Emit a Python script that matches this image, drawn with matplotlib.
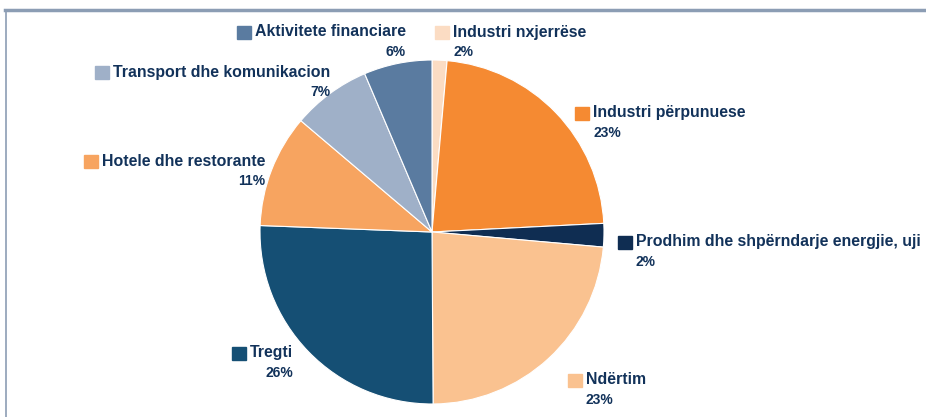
import matplotlib.pyplot as plt
from matplotlib.patches import Rectangle
from matplotlib.lines import Line2D

plt.rcParams['font.family'] = ['Liberation Sans', 'DejaVu Sans']

# te dhenat (pjesa ne %)
sektoret = ['Industri nxjerrëse', 'Industri përpunuese', 'Prodhim dhe shpërndarje energjie, uji',
            'Ndërtim', 'Tregti', 'Hotele dhe restorante', 'Transport dhe komunikacion',
            'Aktivitete financiare']
vlerat = [1.4, 22.8, 2.2, 23.5, 25.7, 10.6, 7.4, 6.4]
etiketat = ['2%', '23%', '2%', '23%', '26%', '11%', '7%', '6%']
ngjyrat = ['#FBDCC3', '#F58A32', '#0F2D52', '#FAC290', '#154F74', '#F7A460', '#9FB0C8', '#5A7BA0']

W, H = 926, 417
fig = plt.figure(figsize=(W / 100, H / 100), dpi=100)

# qendra e pites ne pixel
cx, cy, r = 432, 232, 172
ax = fig.add_axes([(cx - r) / W, (H - cy - r) / H, 2 * r / W, 2 * r / H])
ax.pie(vlerat, colors=ngjyrat, startangle=90, counterclock=False, radius=1,
       wedgeprops=dict(linewidth=0.8, edgecolor='white'))
ax.set_xlim(-1, 1)
ax.set_ylim(-1, 1)
ax.set_aspect('equal')
ax.axis('off')

tekst = '#12325A'

# pozicionet e etiketave: (x katrori, y e tekstit, ne te djathte apo majtas)
poz = [(435, 32, 'L'), (575, 113, 'L'), (618, 242, 'L'), (568, 380, 'L'),
       (232, 353, 'R'), (84, 161, 'R'), (95, 72, 'R'), (237, 32, 'R')]

def fx(x):
    return x / W

def fy(y):
    return 1 - y / H

for emri, et, ngj, (x, y, ana) in zip(sektoret, etiketat, ngjyrat, poz):
    fig.add_artist(Rectangle((fx(x), fy(y + 7)), 14 / W, 13 / H, color=ngj,
                             transform=fig.transFigure))
    t = fig.text(fx(x + 18), fy(y), emri, fontsize=11.4, fontweight='bold',
                 color=tekst, va='center', ha='left')
    if ana == 'L':
        fig.text(fx(x + 18), fy(y + 20), et, fontsize=10, fontweight='bold',
                 color=tekst, va='center', ha='left')
    else:
        fig.canvas.draw()
        bb = t.get_window_extent()
        fig.text(bb.x1 / W, fy(y + 20), et, fontsize=10, fontweight='bold',
                 color=tekst, va='center', ha='right')

# korniza
fig.add_artist(Line2D([fx(5), 1], [fy(9.5), fy(9.5)], color='#8C9DB4', lw=2.5,
                      transform=fig.transFigure))
fig.add_artist(Line2D([fx(5.5), fx(5.5)], [fy(9.5), 0], color='#8C9DB4', lw=1.2,
                      transform=fig.transFigure))

fig.savefig('out.png', dpi=100)
